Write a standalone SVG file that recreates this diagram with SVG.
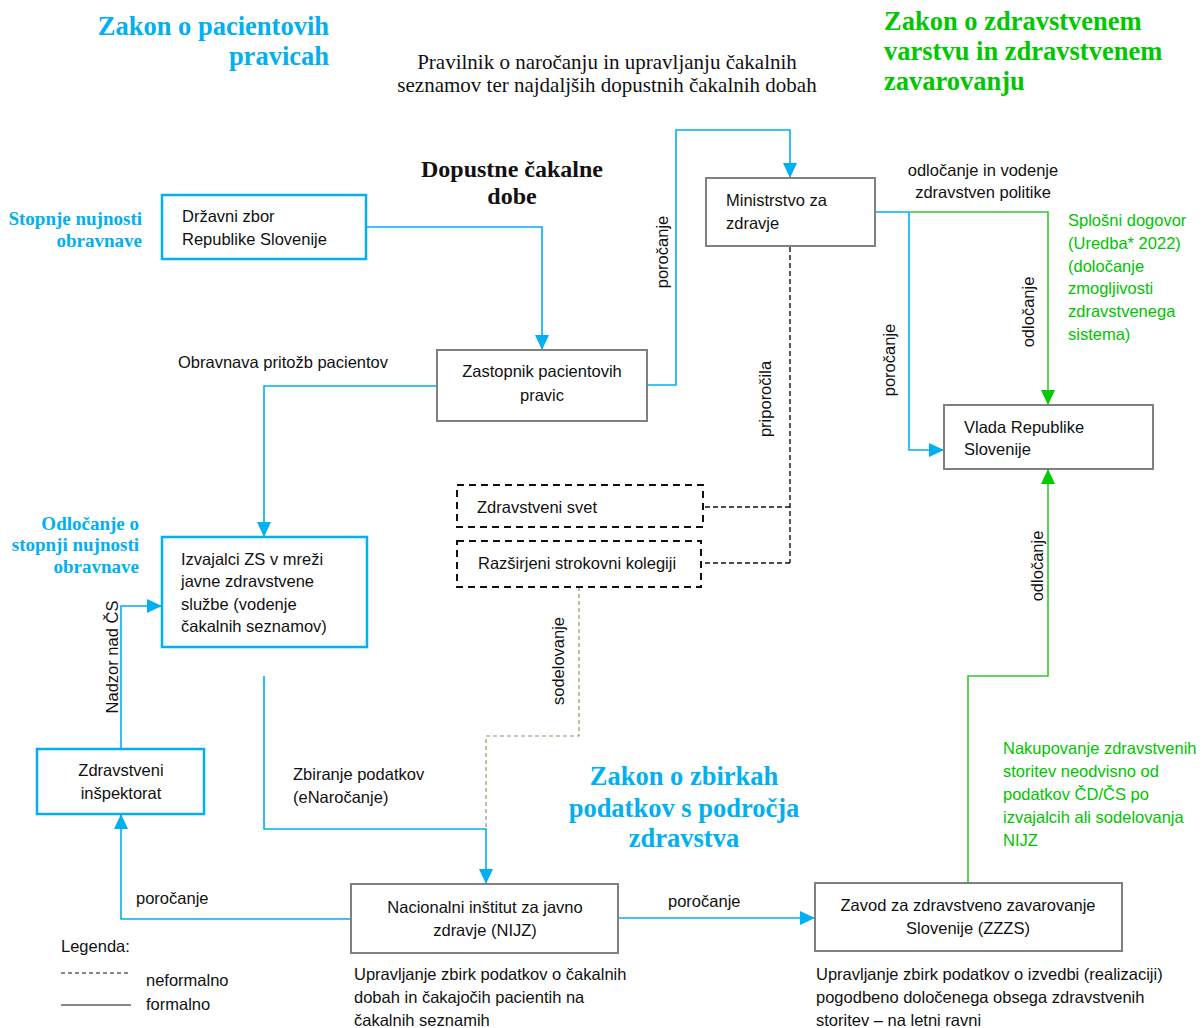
<svg xmlns="http://www.w3.org/2000/svg" width="1204" height="1028" viewBox="0 0 1204 1028">
<style>
.t{font-family:"Liberation Sans",Arial,sans-serif;font-size:16.5px;fill:#111}
.c{text-anchor:middle}
.g{fill:#00C400}
.law{font-family:"Liberation Serif","Times New Roman",serif;font-weight:bold;font-size:26.5px}
.lb{fill:#00B0F0}
.lg{fill:#00C800}
.sb{font-family:"Liberation Serif","Times New Roman",serif;font-weight:bold;font-size:19px;fill:#00B0F0;text-anchor:end}
.bx{fill:#fff;stroke:#808080;stroke-width:2}
.bb{fill:#fff;stroke:#00B0F0;stroke-width:2.5}
.bd{fill:#fff;stroke:#111;stroke-width:2;stroke-dasharray:7,5}
.cb{fill:none;stroke:#00B0F0;stroke-width:1.6}
.cg{fill:none;stroke:#2ECC2E;stroke-width:1.6}
.ck{fill:none;stroke:#111;stroke-width:1.4;stroke-dasharray:5,3}
.co{fill:none;stroke:#8C9A5E;stroke-width:1.2;stroke-dasharray:4,3}
</style>
<defs>
<marker id="ab" viewBox="0 0 15 14" refX="15" refY="7" markerWidth="15" markerHeight="14" markerUnits="userSpaceOnUse" orient="auto"><path d="M0,0 L15,7 L0,14 z" fill="#00B0F0"/></marker>
<marker id="ag" viewBox="0 0 15 14" refX="15" refY="7" markerWidth="15" markerHeight="14" markerUnits="userSpaceOnUse" orient="auto"><path d="M0,0 L15,7 L0,14 z" fill="#00CC00"/></marker>
</defs>
<rect width="1204" height="1028" fill="#fff"/>

<!-- titles -->
<g id="title-pacientovih">
<text class="law lb" text-anchor="end" x="329" y="35">Zakon o pacientovih</text>
<text class="law lb" text-anchor="end" x="329" y="65">pravicah</text>
</g>
<g id="title-pravilnik" font-family="Liberation Serif, Times New Roman, serif" font-size="21" fill="#111" text-anchor="middle">
<text x="607" y="69">Pravilnik o naročanju in upravljanju čakalnih</text>
<text x="607" y="92">seznamov ter najdaljših dopustnih čakalnih dobah</text>
</g>
<g id="title-zzvzz">
<text class="law lg" x="884" y="30">Zakon o zdravstvenem</text>
<text class="law lg" x="884" y="60">varstvu in zdravstvenem</text>
<text class="law lg" x="884" y="90">zavarovanju</text>
</g>
<g id="title-dopustne" font-family="Liberation Serif, Times New Roman, serif" font-weight="bold" font-size="24" fill="#111" text-anchor="middle">
<text x="512" y="177">Dopustne čakalne</text>
<text x="512" y="204">dobe</text>
</g>
<g id="title-zbirke">
<text class="law lb c" x="684" y="785">Zakon o zbirkah</text>
<text class="law lb c" x="684" y="817">podatkov s področja</text>
<text class="law lb c" x="684" y="847">zdravstva</text>
</g>
<g id="label-stopnje">
<text class="sb" x="142" y="225">Stopnje nujnosti</text>
<text class="sb" x="142" y="247">obravnave</text>
</g>
<g id="label-odlocanje-stopnji">
<text class="sb" x="139" y="530">Odločanje o</text>
<text class="sb" x="139" y="551">stopnji nujnosti</text>
<text class="sb" x="139" y="573">obravnave</text>
</g>

<!-- connectors -->
<g id="connectors">
<path class="cb" d="M367,227 H542 V350" marker-end="url(#ab)"/>
<path class="cb" d="M647,385 H676 V130 H790 V178" marker-end="url(#ab)"/>
<path class="cb" d="M437,386 H264 V537" marker-end="url(#ab)"/>
<path class="cb" d="M875,212 H909 V450 H944" marker-end="url(#ab)"/>
<path class="cg" d="M910,212 H1048 V405" marker-end="url(#ag)"/>
<path class="ck" d="M790,247 V563 M790,507 H703 M790,563 H701"/>
<path class="co" d="M579,587 V736 H486 V829"/>
<path class="cb" d="M264,676 V829 H486 V884" marker-end="url(#ab)"/>
<path class="cb" d="M351,919 H121 V814" marker-end="url(#ab)"/>
<path class="cb" d="M121,749 V606 H162" marker-end="url(#ab)"/>
<path class="cb" d="M618,918 H815" marker-end="url(#ab)"/>
<path class="cg" d="M968,883 V676 H1048 V469" marker-end="url(#ag)"/>

<text class="t c" transform="translate(668,252) rotate(-90)">poročanje</text>
<text class="t c" transform="translate(771,399) rotate(-90)">priporočila</text>
<text class="t c" transform="translate(895,360) rotate(-90)">poročanje</text>
<text class="t c" transform="translate(1034,312) rotate(-90)">odločanje</text>
<text class="t c" transform="translate(1043,566) rotate(-90)">odločanje</text>
<text class="t c" transform="translate(118,657) rotate(-90)">Nadzor nad ČS</text>
<text class="t c" transform="translate(564,661) rotate(-90)">sodelovanje</text>
<text class="t" x="178" y="368">Obravnava pritožb pacientov</text>
<text class="t c" x="983" y="176">odločanje in vodenje</text>
<text class="t c" x="983" y="198">zdravstven politike</text>
<text class="t" x="293" y="780">Zbiranje podatkov</text>
<text class="t" x="293" y="803">(eNaročanje)</text>
<text class="t" x="136" y="904">poročanje</text>
<text class="t" x="668" y="907">poročanje</text>
<g class="t g">
<text class="t g" x="1068" y="226">Splošni dogovor</text>
<text class="t g" x="1068" y="249">(Uredba* 2022)</text>
<text class="t g" x="1068" y="272">(določanje</text>
<text class="t g" x="1068" y="294">zmogljivosti</text>
<text class="t g" x="1068" y="317">zdravstvenega</text>
<text class="t g" x="1068" y="340">sistema)</text>
</g>
<text class="t g" x="1003" y="754">Nakupovanje zdravstvenih</text>
<text class="t g" x="1003" y="777">storitev neodvisno od</text>
<text class="t g" x="1003" y="800">podatkov ČD/ČS po</text>
<text class="t g" x="1003" y="823">izvajalcih ali sodelovanja</text>
<text class="t g" x="1003" y="846">NIJZ</text>
</g>

<!-- nodes -->
<g id="drzavni-zbor">
<rect class="bb" x="162" y="195" width="204" height="64"/>
<text class="t" x="182" y="222">Državni zbor</text>
<text class="t" x="182" y="245">Republike Slovenije</text>
</g>
<g id="zastopnik">
<rect class="bx" x="437" y="350" width="210" height="71"/>
<text class="t c" x="542" y="377">Zastopnik pacientovih</text>
<text class="t c" x="542" y="401">pravic</text>
</g>
<g id="ministrstvo">
<rect class="bx" x="706" y="178" width="169" height="68"/>
<text class="t" x="726" y="206">Ministrstvo za</text>
<text class="t" x="726" y="229">zdravje</text>
</g>
<g id="vlada">
<rect class="bx" x="944" y="405" width="209" height="64"/>
<text class="t" x="964" y="433">Vlada Republike</text>
<text class="t" x="964" y="455">Slovenije</text>
</g>
<g id="izvajalci">
<rect class="bb" x="162" y="537" width="205" height="110"/>
<text class="t" x="181" y="565">Izvajalci ZS v mreži</text>
<text class="t" x="181" y="587">javne zdravstvene</text>
<text class="t" x="181" y="610">službe (vodenje</text>
<text class="t" x="181" y="632">čakalnih seznamov)</text>
</g>
<g id="inspektorat">
<rect class="bb" x="37" y="749" width="167" height="65"/>
<text class="t c" x="121" y="776">Zdravstveni</text>
<text class="t c" x="121" y="799">inšpektorat</text>
</g>
<g id="zdravstveni-svet">
<rect class="bd" x="457" y="485" width="246" height="42"/>
<text class="t" x="477" y="513">Zdravstveni svet</text>
</g>
<g id="rsk">
<rect class="bd" x="457" y="541" width="244" height="46"/>
<text class="t" x="478" y="569">Razširjeni strokovni kolegiji</text>
</g>
<g id="nijz">
<rect class="bx" x="351" y="884" width="267" height="69"/>
<text class="t c" x="485" y="913">Nacionalni inštitut za javno</text>
<text class="t c" x="485" y="936">zdravje (NIJZ)</text>
</g>
<g id="nijz-note">
<text class="t" x="354" y="980">Upravljanje zbirk podatkov o čakalnih</text>
<text class="t" x="354" y="1003">dobah in čakajočih pacientih na</text>
<text class="t" x="354" y="1026">čakalnih seznamih</text>
</g>
<g id="zzzs">
<rect class="bx" x="815" y="883" width="307" height="68"/>
<text class="t c" x="968" y="911">Zavod za zdravstveno zavarovanje</text>
<text class="t c" x="968" y="934">Slovenije (ZZZS)</text>
</g>
<g id="zzzs-note">
<text class="t" x="816" y="980">Upravljanje zbirk podatkov o izvedbi (realizaciji)</text>
<text class="t" x="816" y="1003">pogodbeno določenega obsega zdravstvenih</text>
<text class="t" x="816" y="1026">storitev – na letni ravni</text>
</g>
<g id="legend">
<text class="t" x="61" y="952">Legenda:</text>
<line x1="61" y1="973" x2="131" y2="973" stroke="#111" stroke-width="1" stroke-dasharray="4,3"/>
<text class="t" x="146" y="986">neformalno</text>
<line x1="61" y1="1005" x2="131" y2="1005" stroke="#111" stroke-width="1.2"/>
<text class="t" x="146" y="1010">formalno</text>
</g>
</svg>
